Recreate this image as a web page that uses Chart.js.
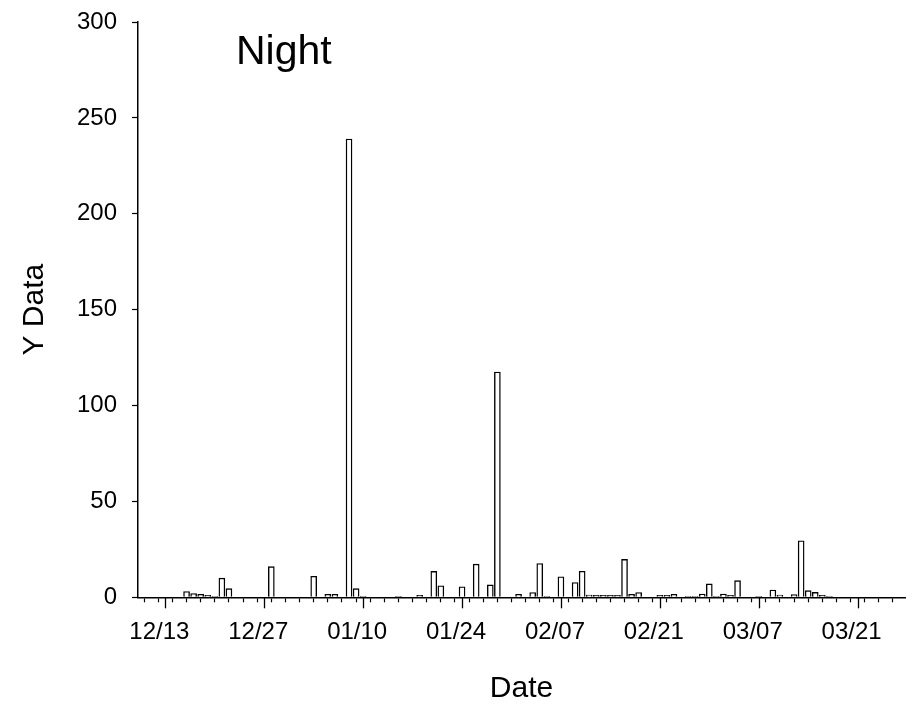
<!DOCTYPE html>
<html>
<head>
<meta charset="utf-8">
<script src="https://cdn.jsdelivr.net/npm/chart.js@4/dist/chart.umd.min.js"></script>
<style>
  html, body { margin: 0; padding: 0; background: #fff; }
  #wrap { width: 915px; height: 710px; }
</style>
</head>
<body>
<div id="wrap"><canvas id="chart" width="915" height="710"></canvas></div>
<script>
// Night-time counts per sampling date
const originDate = '2010-12-13';          // first labelled date on the axis
const sampleDates = [
  '2010-12-16','2010-12-17','2010-12-18','2010-12-19','2010-12-20','2010-12-21','2010-12-22',
  '2010-12-28','2011-01-03','2011-01-05','2011-01-06','2011-01-08','2011-01-09','2011-01-10',
  '2011-01-15','2011-01-18','2011-01-20','2011-01-21','2011-01-24','2011-01-26','2011-01-28',
  '2011-01-29','2011-02-01','2011-02-03','2011-02-04','2011-02-05','2011-02-07','2011-02-09',
  '2011-02-10','2011-02-11','2011-02-12','2011-02-13','2011-02-14','2011-02-15','2011-02-16',
  '2011-02-17','2011-02-18','2011-02-21','2011-02-22','2011-02-23','2011-02-25','2011-02-26',
  '2011-02-27','2011-02-28','2011-03-01','2011-03-02','2011-03-03','2011-03-04','2011-03-07',
  '2011-03-09','2011-03-10','2011-03-12','2011-03-13','2011-03-14','2011-03-15','2011-03-16',
  '2011-03-17'
];
const nightValues = [
  3, 2, 1.5, 1, 0.5, 10, 4.5,
  16, 11, 1.5, 1.5, 239, 4.5, 0.5,
  0.5, 1, 13.5, 6, 5.5, 17.3, 6.5,
  117.5, 1.5, 2.5, 17.6, 0.5, 10.7, 7.7,
  13.6, 1.2, 1, 1, 1, 1, 19.8,
  1.5, 2.5, 1, 1, 1.5, 0.5, 0.5,
  1.7, 7, 0.5, 1.7, 1, 8.7, 0.5,
  3.8, 1.2, 1.4, 29.5, 3.5, 2.6, 1,
  0.5
];
const yTicks = [0, 50, 100, 150, 200, 250, 300];
const xRangeDays = [-2.85, 103.68];      // axis span in days from originDate
const labelEveryDays = 14;
const minorEveryDays = 2;

const DAY = 86400000;
function dayIndex(iso) {
  return Math.round((Date.parse(iso + 'T00:00:00Z') - Date.parse(originDate + 'T00:00:00Z')) / DAY);
}
function formatDay(d) {
  const t = new Date(Date.parse(originDate + 'T00:00:00Z') + d * DAY);
  const mm = String(t.getUTCMonth() + 1).padStart(2, '0');
  const dd = String(t.getUTCDate()).padStart(2, '0');
  return mm + '/' + dd;
}

const points = sampleDates.map((d, i) => ({ x: dayIndex(d), y: nightValues[i] }));

const FONT = "'Liberation Sans', Arial, sans-serif";

// longer tick marks at the labelled dates
const majorTickPlugin = {
  id: 'majorTicks',
  afterDraw(chart) {
    const sx = chart.scales.x;
    const ctx = chart.ctx;
    ctx.save();
    ctx.strokeStyle = '#000';
    ctx.lineWidth = 1.3;
    for (let v = 0; v <= sx.max; v += labelEveryDays) {
      if (v < sx.min) continue;
      const px = Math.round(sx.getPixelForValue(v)) + 0.5;
      ctx.beginPath();
      ctx.moveTo(px, sx.top);
      ctx.lineTo(px, sx.top + 11);
      ctx.stroke();
    }
    ctx.restore();
  }
};

// panel caption inside the plot area
const panelCaption = {
  id: 'panelCaption',
  afterDraw(chart) {
    const { ctx, chartArea } = chart;
    ctx.save();
    ctx.fillStyle = '#000';
    ctx.font = '41px ' + FONT;
    ctx.textAlign = 'left';
    ctx.textBaseline = 'alphabetic';
    ctx.fillText('Night', chartArea.left + 98, chartArea.top + 42);
    ctx.restore();
  }
};

new Chart(document.getElementById('chart'), {
  type: 'bar',
  data: {
    datasets: [{
      data: points,
      backgroundColor: '#ffffff',
      borderColor: '#000000',
      borderWidth: 1.4,
      barThickness: 6
    }]
  },
  plugins: [majorTickPlugin, panelCaption],
  options: {
    responsive: false,
    devicePixelRatio: 1,
    animation: false,
    layout: { padding: { top: 22, right: 10, left: 0, bottom: 0 } },
    plugins: { legend: { display: false }, tooltip: { enabled: false } },
    scales: {
      x: {
        type: 'linear',
        min: xRangeDays[0],
        max: xRangeDays[1],
        afterFit(scale) { scale.height = 112.7; },
        grid: { drawOnChartArea: false, drawTicks: true, tickLength: 5, tickWidth: 1.2, tickColor: '#000' },
        border: { display: true, color: '#000', width: 1.5 },
        ticks: {
          stepSize: minorEveryDays,
          includeBounds: false,
          autoSkip: false,
          maxRotation: 0,
          padding: 16,
          labelOffset: -6,
          color: '#000',
          font: { family: FONT, size: 24 },
          callback: (v) => (v % labelEveryDays === 0 ? formatDay(v) : '')
        },
        title: {
          display: true,
          text: 'Date',
          color: '#000',
          font: { family: FONT, size: 30 },
          padding: { top: 0, bottom: 3 }
        }
      },
      y: {
        min: yTicks[0],
        max: yTicks[yTicks.length - 1],
        afterFit(scale) {
          scale.width = 138;
          // plot top is set by the layout padding alone
          scale.paddingTop = 0;
          scale.paddingBottom = 0;
        },
        afterBuildTicks(scale) { scale.ticks = yTicks.map(v => ({ value: v })); },
        grid: { drawOnChartArea: false, drawTicks: true, tickLength: 6, tickWidth: 1.2, tickColor: '#000' },
        border: { display: true, color: '#000', width: 1.5 },
        ticks: {
          padding: 15,
          color: '#000',
          font: { family: FONT, size: 24 }
        },
        title: {
          display: true,
          text: 'Y Data',
          color: '#000',
          font: { family: FONT, size: 30 },
          padding: { top: 17, bottom: 0 }
        }
      }
    }
  }
});
</script>
</body>
</html>
